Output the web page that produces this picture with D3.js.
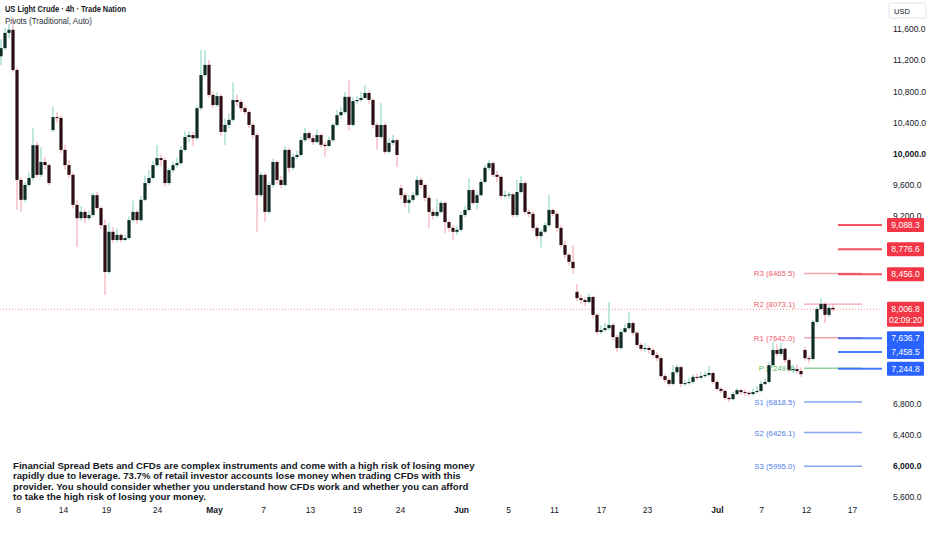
<!DOCTYPE html>
<html>
<head>
<meta charset="utf-8">
<title>US Light Crude 4h</title>
<style>
  html, body { margin: 0; padding: 0; background: #ffffff; }
  svg { display: block; font-family: "Liberation Sans", Arial, sans-serif; }
</style>
</head>
<body>
<div id="chart"></div>
<script src="https://d3js.org/d3.v7.min.js"></script>
<script>
// 4h candles (open = previous close unless listed in gapOpens)
var closes = [
  11355, 11550, 11590, 11075, 9665, 9410, 9600, 9690, 10110, 9730,
  9895, 9855, 9625, 10470, 10460, 10050, 9855, 9730, 9345, 9175,
  9255, 9175, 9215, 9470, 9305, 9085, 8485, 9000, 8895, 8960,
  8895, 8920, 9150, 9255, 9150, 9410, 9625, 9690, 9855, 9945,
  9920, 9625, 9790, 9855, 9880, 10050, 10215, 10240, 10200, 10585,
  11010, 11140, 10755, 10625, 10740, 10280, 10370, 10435, 10690, 10665,
  10585, 10535, 10370, 10240, 9470, 9730, 9255, 9600, 9895, 9665,
  9600, 10050, 9820, 9960, 9985, 10175, 10265, 10200, 10150, 10240,
  10115, 10100, 10175, 10370, 10495, 10535, 10730, 10370, 10675, 10690,
  10715, 10780, 10690, 10370, 10215, 10370, 10025, 10140, 10175, 9985,
  9470, 9370, 9410, 9470, 9665, 9600, 9435, 9255, 9205, 9255,
  9370, 9125, 9050, 9000, 9025, 9215, 9280, 9535, 9370, 9470,
  9640, 9820, 9880, 9730, 9705, 9460, 9470, 9480, 9215, 9510,
  9625, 9255, 9230, 9050, 8945, 9000, 9085, 9280, 9230, 9050,
  8830, 8705, 8615, 8535, 8150, 8125, 8100, 8165, 7935, 7715,
  7740, 7765, 7805, 7650, 7510, 7715, 7765, 7830, 7705, 7550,
  7500, 7510, 7485, 7420, 7380, 7150, 7100, 7050, 7200, 7265,
  7050, 7060, 7075, 7140, 7130, 7150, 7165, 7190, 7075, 6985,
  6960, 6870, 6855, 6920, 6970, 6945, 6935, 6920, 6945, 6960,
  7050, 7075, 7290, 7485, 7435, 7500, 7355, 7230, 7240, 7215,
  7175, 7380, 7370, 7845, 8010, 8075, 7935, 8025, 8006.8
];
var highs = [
  11470, 11615, 11665, 11755, 11100, 9700, 9640, 9760, 10330, 10150,
  10085, 9960, 9880, 10600, 10530, 10490, 10110, 9920, 9760, 9400,
  9330, 9290, 9270, 9500, 9510, 9330, 9160, 9120, 9060, 9040,
  8980, 8960, 9200, 9400, 9280, 9460, 9720, 9790, 9910, 10115,
  9990, 9950, 9820, 9900, 9950, 10100, 10290, 10290, 10280, 10620,
  11330, 11330, 11200, 10800, 10790, 10770, 10450, 10520, 10920, 10760,
  10700, 10620, 10560, 10400, 10270, 9760, 9760, 9640, 9940, 9920,
  9720, 10100, 10070, 10000, 10040, 10220, 10330, 10290, 10240, 10310,
  10260, 10160, 10220, 10400, 10560, 10600, 10790, 10945, 10720, 10740,
  10790, 10880, 10810, 10710, 10400, 10650, 10400, 10200, 10240, 10200,
  9600, 9500, 9470, 9510, 9720, 9700, 9620, 9470, 9290, 9420,
  9400, 9390, 9150, 9080, 9080, 9250, 9330, 9690, 9560, 9520,
  9680, 9860, 9920, 9900, 9780, 9730, 9530, 9510, 9500, 9665,
  9715, 9650, 9290, 9260, 9080, 9040, 9120, 9470, 9300, 9260,
  9080, 8880, 8730, 8830, 8330, 8200, 8160, 8210, 8180, 7960,
  7800, 7830, 8100, 7830, 7680, 7750, 7820, 7970, 7850, 7730,
  7580, 7570, 7540, 7510, 7460, 7400, 7180, 7130, 7290, 7300,
  7280, 7100, 7130, 7170, 7180, 7200, 7210, 7280, 7210, 7100,
  7010, 6980, 6890, 6950, 7000, 6990, 6980, 6960, 6990, 7020,
  7090, 7120, 7330, 7585, 7560, 7580, 7520, 7380, 7290, 7300,
  7260, 7520, 7410, 7870, 8040, 8150, 8100, 8060, 8070
];
var lows = [
  11140, 11330, 11480, 11040, 9280, 9255, 9380, 9570, 9660, 9700,
  9700, 9800, 9600, 10280, 10400, 10010, 9800, 9690, 9300, 8805,
  9140, 9110, 9150, 9190, 9280, 9040, 8190, 8460, 8860, 8870,
  8860, 8880, 8900, 9120, 9100, 9130, 9390, 9600, 9670, 9830,
  9840, 9580, 9600, 9760, 9820, 9860, 10030, 10150, 10100, 10180,
  10560, 10980, 10720, 10590, 10600, 10240, 10115, 10330, 10410, 10610,
  10540, 10500, 10330, 10190, 9000, 9440, 9125, 9230, 9570, 9610,
  9560, 9580, 9760, 9790, 9930, 9960, 10150, 10170, 10110, 10130,
  10080, 9960, 10080, 10150, 10350, 10460, 10510, 10300, 10350, 10640,
  10670, 10700, 10640, 10330, 10050, 10190, 9990, 10000, 10110, 9830,
  9420, 9320, 9240, 9380, 9450, 9550, 9390, 9050, 9160, 9180,
  9230, 8980, 9000, 8895, 8960, 9000, 9190, 9260, 9340, 9290,
  9450, 9620, 9790, 9700, 9640, 9420, 9430, 9420, 9180, 9190,
  9490, 9220, 9190, 9010, 8910, 8800, 8980, 9060, 9200, 9000,
  8800, 8660, 8570, 8460, 8110, 8070, 8050, 8080, 7900, 7680,
  7690, 7720, 7740, 7610, 7460, 7490, 7700, 7740, 7670, 7520,
  7470, 7460, 7440, 7390, 7340, 7120, 7060, 7020, 7030, 7170,
  7010, 7020, 7040, 7050, 7100, 7110, 7130, 7150, 7050, 6960,
  6930, 6840, 6820, 6840, 6900, 6910, 6900, 6890, 6900, 6930,
  6940, 7030, 7060, 7270, 7400, 7410, 7320, 7200, 7200, 7180,
  7140, 7350, 7320, 7350, 7820, 7990, 7830, 7910, 7980
];
var gapOpens = [[0, 11250], [13, 10305], [100, 9560], [144, 8230], [201, 7485]];

var priceTicks = [11600, 11200, 10800, 10400, 10000, 9600, 9200, 6800, 6400, 6000, 5600];
var boldTicks = [10000, 6000];
var dateLabels = ["8", "14", "19", "24", "May", "7", "13", "19", "24", "Jun", "5", "11", "17", "23", "Jul", "7", "12", "17"];
var dateBars = [4.25, 15.5, 26.25, 39, 53.25, 65.5, 77.25, 89, 99.75, 115, 126.75, 138.25, 150, 161.5, 179, 190, 201.25, 212.75];
var monthLabels = ["May", "Jun", "Jul"];

var pivotNames = ["R3", "R2", "R1", "P", "S1", "S2", "S3"];
var pivotValues = [8465.5, 8073.1, 7642.0, 7249.8, 6818.5, 6426.1, 5995.0];
var pivotStartBar = 200.75, pivotEndBar = 215.25;

var resistLevels = [9088.3, 8776.6, 8456.0];
var supportLevels = [7636.7, 7458.5, 7244.8];
var lastPrice = 8006.8;
var countdown = "02:09:20";

var disclaimer = [
  "Financial Spread Bets and CFDs are complex instruments and come with a high risk of losing money",
  "rapidly due to leverage. 73.7% of retail investor accounts lose money when trading CFDs with this",
  "provider. You should consider whether you understand how CFDs work and whether you can afford",
  "to take the high risk of losing your money."
];

(function(){
  "use strict";

  var w = 932, h = 550, plotRight = 882;
  var fmt = d3.format(",.1f");

  var x = d3.scaleLinear().domain([0, 220]).range([1, 881]);
  var y = d3.scaleLinear().domain([5600, 11600]).range([497, 29]);

  var gapMap = new Map(gapOpens);
  var candles = closes.map(function(c, i){
    var o = gapMap.has(i) ? gapMap.get(i) : closes[i - 1];
    return { i: i, open: o, close: c, high: highs[i], low: lows[i], up: c >= o };
  });

  var svg = d3.select("#chart").append("svg")
    .attr("width", w)
    .attr("height", h);

  svg.append("rect").attr("width", w).attr("height", h).attr("fill", "#ffffff");

  // pivot points
  function pivotColor(name, part){
    var c = name[0] === "R" ? ["#f5a3ad", "#ef5a6c"]
          : name[0] === "S" ? ["#86a9f2", "#4f80ea"]
          : ["#92d196", "#5cb860"];
    return part === "line" ? c[0] : c[1];
  }
  var piv = svg.append("g").attr("class", "pivots");
  piv.selectAll("line")
    .data(pivotNames)
    .enter().append("line")
      .attr("x1", x(pivotStartBar))
      .attr("x2", x(pivotEndBar))
      .attr("y1", function(d, i){ return y(pivotValues[i]); })
      .attr("y2", function(d, i){ return y(pivotValues[i]); })
      .attr("stroke", function(d){ return pivotColor(d, "line"); })
      .attr("stroke-width", 1.4);
  piv.selectAll("text")
    .data(pivotNames)
    .enter().append("text")
      .attr("x", x(pivotStartBar) - 9)
      .attr("y", function(d, i){ return y(pivotValues[i]) + 3; })
      .attr("text-anchor", "end")
      .attr("font-size", 7.8)
      .attr("fill", function(d){ return pivotColor(d, "text"); })
      .text(function(d, i){ return d + " (" + pivotValues[i].toFixed(1) + ")"; });

  // last price dotted line
  svg.append("line")
    .attr("x1", 0).attr("x2", plotRight)
    .attr("y1", y(lastPrice)).attr("y2", y(lastPrice))
    .attr("stroke", "#f28b95")
    .attr("stroke-width", 1)
    .attr("stroke-dasharray", "1,2");

  // candles
  var cg = svg.append("g").attr("class", "candles")
    .selectAll("g")
    .data(candles)
    .enter().append("g");

  cg.append("line")
    .attr("x1", function(d){ return x(d.i); })
    .attr("x2", function(d){ return x(d.i); })
    .attr("y1", function(d){ return y(d.high); })
    .attr("y2", function(d){ return y(d.low); })
    .attr("stroke", function(d){ return d.up ? "#7fcfc0" : "#f19fa8"; })
    .attr("stroke-width", 1);

  cg.append("rect")
    .attr("x", function(d){ return x(d.i) - 1.6; })
    .attr("width", 3.2)
    .attr("y", function(d){ return y(Math.max(d.open, d.close)); })
    .attr("height", function(d){ return Math.max(1, Math.abs(y(d.open) - y(d.close))); })
    .attr("fill", function(d){ return d.up ? "#0f2d27" : "#2e0e12"; });

  // horizontal levels right of the last bar
  var lvlStart = x(closes.length) + 1;
  var levels = resistLevels.map(function(v){ return { v: v, c: "#f23645" }; })
    .concat(supportLevels.map(function(v){ return { v: v, c: "#2962ff" }; }));

  svg.append("g").selectAll("line")
    .data(levels)
    .enter().append("line")
      .attr("x1", lvlStart).attr("x2", plotRight)
      .attr("y1", function(d){ return y(d.v); })
      .attr("y2", function(d){ return y(d.v); })
      .attr("stroke", function(d){ return d.c; })
      .attr("stroke-width", 2)
      .attr("stroke-opacity", 0.85);

  // price axis
  var yAxis = svg.append("g")
    .attr("transform", "translate(889,0)")
    .call(d3.axisRight(y).tickValues(priceTicks).tickSize(0).tickPadding(4).tickFormat(fmt));
  yAxis.select(".domain").remove();
  yAxis.selectAll("text")
    .attr("font-family", "Liberation Sans, Arial, sans-serif")
    .attr("font-size", 8.5)
    .attr("fill", "#131722")
    .attr("font-weight", function(d){ return boldTicks.indexOf(d) >= 0 ? "bold" : "normal"; });

  // level boxes on the axis
  var boxes = svg.append("g").selectAll("g")
    .data(levels)
    .enter().append("g");
  boxes.append("rect")
    .attr("x", 887).attr("width", 37)
    .attr("y", function(d){ return y(d.v) - 7; })
    .attr("height", 14)
    .attr("rx", 1)
    .attr("fill", function(d){ return d.c; });
  boxes.append("text")
    .attr("x", 905.5)
    .attr("y", function(d){ return y(d.v) + 3; })
    .attr("text-anchor", "middle")
    .attr("font-size", 8.5)
    .attr("fill", "#ffffff")
    .text(function(d){ return fmt(d.v); });

  // last price box with countdown
  var lp = svg.append("g");
  lp.append("rect")
    .attr("x", 887).attr("width", 37)
    .attr("y", y(lastPrice) - 7.5).attr("height", 25)
    .attr("rx", 1)
    .attr("fill", "#f23645");
  lp.append("text")
    .attr("x", 905.5).attr("y", y(lastPrice) + 3)
    .attr("text-anchor", "middle").attr("font-size", 8.5).attr("fill", "#ffffff")
    .text(fmt(lastPrice));
  lp.append("text")
    .attr("x", 905.5).attr("y", y(lastPrice) + 14)
    .attr("text-anchor", "middle").attr("font-size", 8.5).attr("fill", "#ffffff")
    .text(countdown);

  // currency tag
  svg.append("rect")
    .attr("x", 889).attr("y", 3).attr("width", 37).attr("height", 15)
    .attr("rx", 2)
    .attr("fill", "#ffffff").attr("stroke", "#e0e3eb");
  svg.append("text")
    .attr("x", 894).attr("y", 13.5)
    .attr("font-size", 7.5).attr("fill", "#131722")
    .text("USD");

  // time axis
  var xAxis = svg.append("g")
    .attr("transform", "translate(0,503)")
    .call(d3.axisBottom(x).tickValues(dateBars).tickSize(0).tickPadding(4)
      .tickFormat(function(d, i){ return dateLabels[i]; }));
  xAxis.select(".domain").remove();
  xAxis.selectAll("text")
    .attr("font-family", "Liberation Sans, Arial, sans-serif")
    .attr("font-size", 8.5)
    .attr("fill", "#131722")
    .attr("font-weight", function(d, i){ return monthLabels.indexOf(dateLabels[i]) >= 0 ? "bold" : "normal"; });

  // legend
  svg.append("text")
    .attr("x", 5).attr("y", 11.5)
    .attr("font-size", 8.5).attr("font-weight", "bold").attr("fill", "#131722")
    .attr("textLength", 121).attr("lengthAdjust", "spacingAndGlyphs")
    .text("US Light Crude \u00b7 4h \u00b7 Trade Nation");
  svg.append("text")
    .attr("x", 5).attr("y", 23.5)
    .attr("font-size", 8.5).attr("fill", "#2a2e39")
    .attr("textLength", 87).attr("lengthAdjust", "spacingAndGlyphs")
    .text("Pivots (Traditional, Auto)");

  // disclaimer: size the font so the first line spans the same width as in the picture
  var disc = svg.append("g")
    .attr("font-weight", "bold")
    .attr("fill", "#131722");
  var lines = disc.selectAll("text")
    .data(disclaimer)
    .enter().append("text")
      .attr("x", 13)
      .attr("y", function(d, i){ return 468.5 + i * 10.6; })
      .attr("font-size", 10)
      .text(function(d){ return d; });
  var natural = lines.node().getComputedTextLength();
  var size = 10 * 462 / natural;
  lines.attr("font-size", Math.min(size, 10.5))
    .attr("transform", function(){
      var s = size > 10.5 ? size / 10.5 : 1;
      return "translate(13,0) scale(" + s + ",1) translate(-13,0)";
    });
})();
</script>
</body>
</html>
